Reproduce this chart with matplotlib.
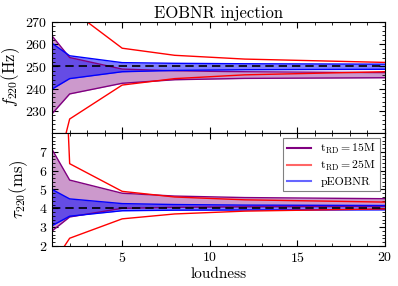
import matplotlib
matplotlib.use("Agg")
import matplotlib.pyplot as plt
from matplotlib.ticker import MultipleLocator

plt.rcParams["font.family"] = "serif"
plt.rcParams["font.serif"] = ["cmr10", "DejaVu Serif"]
plt.rcParams["mathtext.fontset"] = "cm"
plt.rcParams["axes.formatter.use_mathtext"] = True

# loudness values
loudness = [1, 2, 5, 8, 12, 20]

# f220 (Hz) bands
f15_hi = [263.7, 254.0, 248.8, 248.0, 247.6, 247.2]
f15_lo = [228.7, 237.6, 242.4, 244.0, 244.6, 244.9]
fpe_hi = [260.4, 254.8, 251.7, 251.4, 251.2, 251.0]
fpe_lo = [239.8, 244.5, 247.6, 248.2, 248.5, 248.7]
f25_hi = [300.0, 276.0, 258.2, 255.0, 253.3, 251.8]
f25_lo = [195.0, 226.3, 241.6, 244.5, 246.2, 247.6]
f_true = 250

# tau220 (ms) bands
t15_hi = [7.12, 5.5, 4.8, 4.65, 4.57, 4.51]
t15_lo = [2.8, 3.54, 4.0, 4.05, 4.08, 4.1]
tpe_hi = [5.0, 4.5, 4.25, 4.2, 4.17, 4.15]
tpe_lo = [3.08, 3.58, 3.87, 3.9, 3.91, 3.92]
t25_hi = [28.0, 6.37, 4.9, 4.6, 4.45, 4.33]
t25_lo = [1.0, 2.41, 3.44, 3.7, 3.85, 3.97]
t_true = 4


def draw_panel(ax, hi15, lo15, hipe, lope, hi25, lo25, truth):
    ax.fill_between(loudness, lo15, hi15, color="purple", alpha=0.4, lw=0)
    ax.plot(loudness, hi15, color="purple", lw=1)
    ax.plot(loudness, lo15, color="purple", lw=1)
    ax.fill_between(loudness, lope, hipe, color="blue", alpha=0.5, lw=0)
    ax.plot(loudness, hipe, color="blue", lw=1)
    ax.plot(loudness, lope, color="blue", lw=1)
    ax.plot(loudness, hi25, color="red", lw=1)
    ax.plot(loudness, lo25, color="red", lw=1)
    ax.axhline(truth, color="black", ls="--", lw=1.2, dashes=(5, 3))
    ax.tick_params(which="both", direction="in", top=True, right=True, labelsize=10)
    ax.tick_params(which="major", length=4)
    ax.tick_params(which="minor", length=2)
    ax.xaxis.set_minor_locator(MultipleLocator(1))
    ax.set_xlim(1, 20)


fig = plt.figure(figsize=(3.98, 2.86), dpi=100)
ax1 = fig.add_axes([0.131, 0.535, 0.836, 0.388])
ax2 = fig.add_axes([0.131, 0.14, 0.836, 0.395], sharex=ax1)

draw_panel(ax1, f15_hi, f15_lo, fpe_hi, fpe_lo, f25_hi, f25_lo, f_true)
ax1.set_ylim(220, 270)
ax1.set_yticks([230, 240, 250, 260, 270])
ax1.yaxis.set_minor_locator(MultipleLocator(2))
ax1.set_ylabel(r"$f_{220}(\mathrm{Hz})$", fontsize=12, labelpad=2)
ax1.set_title("EOBNR injection", fontsize=12, pad=3)
plt.setp(ax1.get_xticklabels(), visible=False)

draw_panel(ax2, t15_hi, t15_lo, tpe_hi, tpe_lo, t25_hi, t25_lo, t_true)
ax2.set_ylim(2, 8)
ax2.set_yticks([2, 3, 4, 5, 6, 7])
ax2.yaxis.set_minor_locator(MultipleLocator(0.2))
ax2.set_xticks([5, 10, 15, 20])
ax2.set_ylabel(r"$\tau_{220}(\mathrm{ms})$", fontsize=12, labelpad=6)
ax2.set_xlabel("loudness", fontsize=11, labelpad=2)

h1, = ax2.plot([], [], color="purple", lw=1.5, label=r"$\mathrm{t_{RD}=15M}$")
h2, = ax2.plot([], [], color="#ff6666", lw=1.5, label=r"$\mathrm{t_{RD}=25M}$")
h3, = ax2.plot([], [], color="#6666ff", lw=1.5, label="pEOBNR")
leg = ax2.legend(handles=[h1, h2, h3], loc="upper right", fontsize=8.5,
                 fancybox=False, edgecolor="gray", framealpha=1,
                 handlelength=2, borderaxespad=0.4, labelspacing=0.3,
                 borderpad=0.35)
leg.get_frame().set_linewidth(0.8)

fig.savefig("out.png", dpi=100)
